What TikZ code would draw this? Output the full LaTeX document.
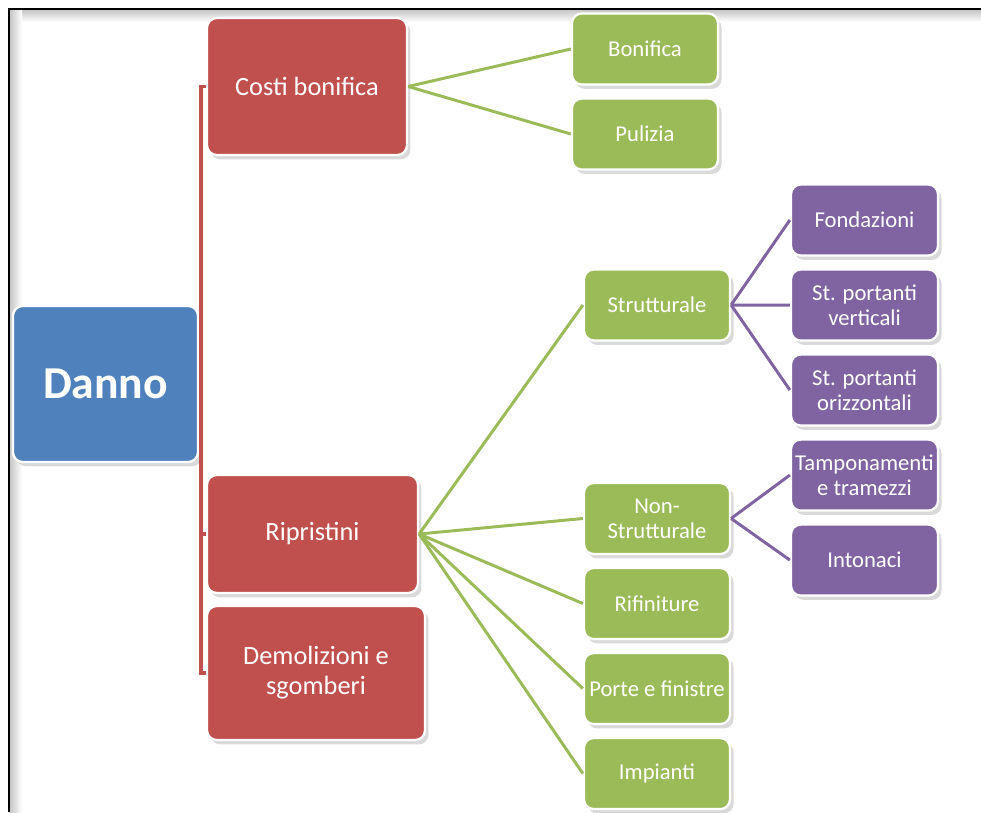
\documentclass[tikz,border=0pt]{standalone}
\usepackage{fontspec}
\setmainfont{Carlito}
\usetikzlibrary{positioning,shadows}

\definecolor{dblue}{HTML}{4F81BD}
\definecolor{dred}{HTML}{C0504D}
\definecolor{dgreen}{HTML}{9BBB59}
\definecolor{dpurple}{HTML}{8064A2}

\tikzset{
  box/.style={draw=white, line width=1.3pt, rounded corners=5.5pt, text=white,
    align=center, inner sep=0pt,
    drop shadow={opacity=0.3, shadow xshift=2pt, shadow yshift=-2.5pt}},
  root/.style={box, fill=dblue, minimum width=3.7cm, minimum height=3.12cm,
    font=\fontsize{26}{30}\selectfont\bfseries},
  cat/.style={box, fill=dred, font=\fontsize{15}{17}\selectfont},
  sub/.style={box, fill=dgreen, minimum width=2.92cm, minimum height=1.42cm,
    font=\fontsize{12.9}{14.2}\selectfont},
  leaf/.style={box, fill=dpurple, minimum width=2.94cm, minimum height=1.42cm,
    font=\fontsize{12.9}{14.2}\selectfont},
  redline/.style={draw=dred, line width=2pt},
  greenline/.style={draw=dgreen, line width=1.7pt},
  purpleline/.style={draw=dpurple, line width=1.7pt},
}

\begin{document}
\begin{tikzpicture}[x=0.02cm, y=-0.02cm, node distance=0.235cm]
        \useasboundingbox (0,0) rectangle (981,812);

        % frame with its inner shadow
        \shade[top color=black!22, bottom color=white] (10,10) rectangle (981,22);
        \shade[left color=black!22, right color=white] (10,10) rectangle (22,812);
        \draw[line width=1.3pt] (981,9) -- (9,9) -- (9,812);

        % root and first level
        \node[root] (danno) at (105.5,384) {Danno};
        \node[cat, minimum width=4cm, minimum height=2.74cm] (costi) at (307,86.5) {Costi bonifica};
        \node[cat, minimum width=4.22cm, minimum height=2.36cm] (ripr) at (312.5,534) {Ripristini};
        \node[cat, minimum width=4.36cm, minimum height=2.68cm] (demo) at (316,673) {Demolizioni e\\sgomberi};

        % second level
        \node[sub] (bon) at (645,49) {Bonifica};
        \node[sub] (pul) [below=of bon] {Pulizia};

        \node[sub] (strut) at (657,305) {Strutturale};
        \node[sub] (nonstr) at (657,518.5) {Non-\\Strutturale};
        \node[sub] (rif) [below=of nonstr] {Rifiniture};
        \node[sub] (porte) [below=of rif] {Porte e finistre};
        \node[sub] (imp) [below=of porte] {Impianti};

        % third level
        \node[leaf] (fond) at (864.5,220) {Fondazioni};
        \node[leaf] (vert) [below=of fond] {St. portanti\\verticali};
        \node[leaf] (oriz) [below=of vert] {St. portanti\\orizzontali};
        \node[leaf] (tamp) [below=of oriz] {Tamponamenti\\e tramezzi};
        \node[leaf] (inton) [below=of tamp] {Intonaci};

        % connectors
        \coordinate (hub) at (201,384);
        \draw[redline] (danno.east) -- (hub);
        \foreach \c in {costi,ripr,demo}
            \draw[redline] (hub) |- (\c.west);

        \foreach \c in {bon,pul}
            \draw[greenline] (costi.east) -- (\c.west);
        \foreach \c in {strut,nonstr,rif,porte,imp}
            \draw[greenline] (ripr.east) -- (\c.west);

        \foreach \c in {fond,vert,oriz}
            \draw[purpleline] (strut.east) -- (\c.west);
        \foreach \c in {tamp,inton}
            \draw[purpleline] (nonstr.east) -- (\c.west);
      \end{tikzpicture}
\end{document}
